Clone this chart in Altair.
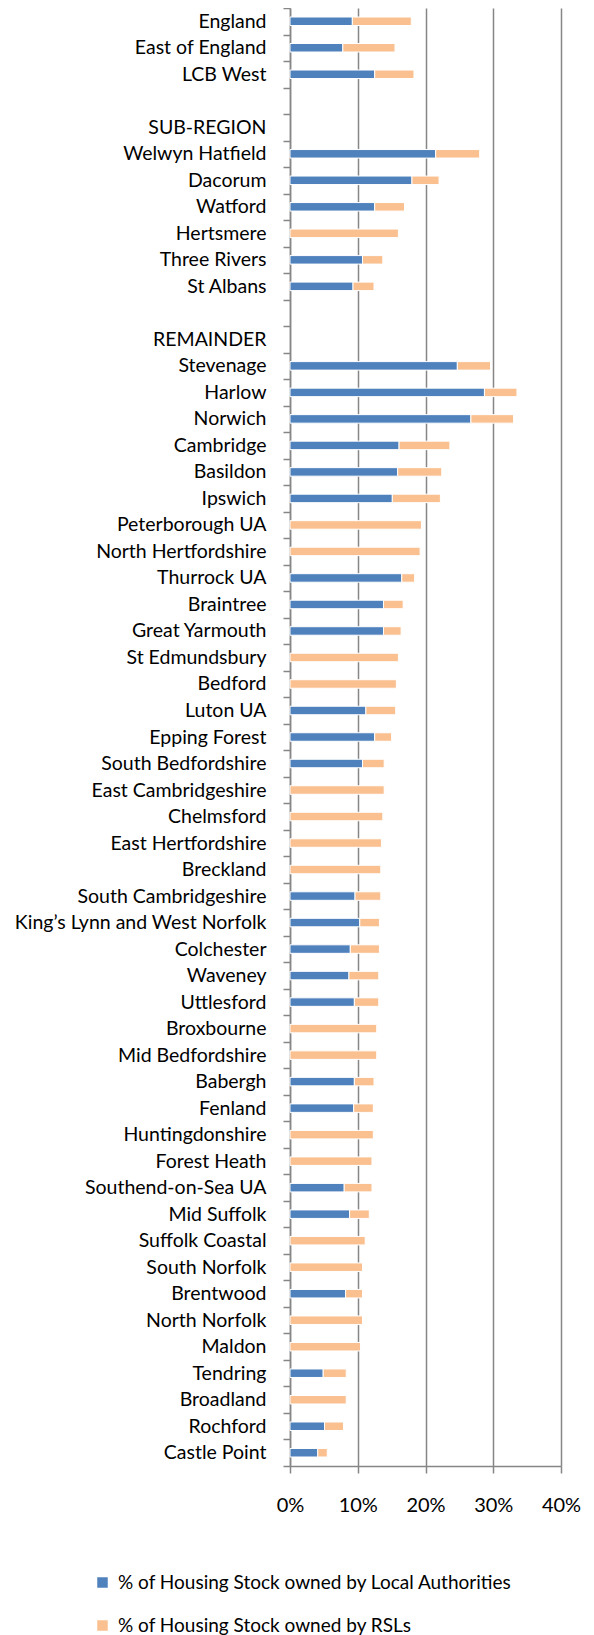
import altair as alt
import pandas as pd

categories = [
    "England", "East of England", "LCB West", " ", "SUB-REGION",
    "Welwyn Hatfield", "Dacorum", "Watford", "Hertsmere", "Three Rivers", "St Albans",
    "  ", "REMAINDER",
    "Stevenage", "Harlow", "Norwich", "Cambridge", "Basildon", "Ipswich",
    "Peterborough UA", "North Hertfordshire", "Thurrock UA", "Braintree", "Great Yarmouth",
    "St Edmundsbury", "Bedford", "Luton UA", "Epping Forest", "South Bedfordshire",
    "East Cambridgeshire", "Chelmsford", "East Hertfordshire", "Breckland",
    "South Cambridgeshire", "King\u2019s Lynn and West Norfolk", "Colchester",
    "Waveney", "Uttlesford", "Broxbourne", "Mid Bedfordshire", "Babergh", "Fenland",
    "Huntingdonshire", "Forest Heath", "Southend-on-Sea  UA", "Mid Suffolk",
    "Suffolk Coastal", "South Norfolk",
    "Brentwood", "North Norfolk", "Maldon", "Tendring", "Broadland", "Rochford", "Castle Point",
]

# % of housing stock owned by Local Authorities (0 = none)
la_pct = [
    9.2, 7.8, 12.5, 0, 0,
    21.5, 18.0, 12.5, 0, 10.7, 9.3,
    0, 0,
    24.7, 28.7, 26.7, 16.1, 15.9, 15.1,
    0, 0, 16.5, 13.8, 13.8,
    0, 0, 11.2, 12.5, 10.7,
    0, 0, 0, 0,
    9.6, 10.3, 8.9,
    8.7, 9.5, 0, 0, 9.5, 9.4,
    0, 0, 8.0, 8.8,
    0, 0,
    8.2, 0, 0, 4.9, 0, 5.1, 4.1,
]

# % of housing stock owned by RSLs
rsl_pct = [
    8.7, 7.7, 5.8, 0, 0,
    6.5, 4.0, 4.4, 16.0, 3.0, 3.1,
    0, 0,
    4.9, 4.8, 6.3, 7.5, 6.5, 7.1,
    19.4, 19.2, 1.9, 2.9, 2.6,
    16.0, 15.7, 4.4, 2.5, 3.2,
    13.9, 13.7, 13.5, 13.4,
    3.8, 2.9, 4.3,
    4.4, 3.6, 12.8, 12.8, 2.9, 2.9,
    12.3, 12.1, 4.1, 2.9,
    11.1, 10.7,
    2.5, 10.7, 10.4, 3.4, 8.3, 2.8, 1.4,
]

series_names = [
    "% of Housing Stock owned by Local Authorities",
    "% of Housing Stock owned by RSLs",
]
series_colors = ["#4F81BD", "#FAC090"]
x_ticks = [0, 10, 20, 30, 40]

rows = []
for c, a, r in zip(categories, la_pct, rsl_pct):
    if a:
        rows.append({"cat": c, "series": series_names[0], "value": a, "ord": 0})
    if r:
        rows.append({"cat": c, "series": series_names[1], "value": r, "ord": 1})
df = pd.DataFrame(rows)

FONT = "Lato"
GRAY = "#868686"

chart = alt.Chart(df).mark_bar(size=8.5, stroke="white", strokeWidth=1).encode(
    y=alt.Y(
        "cat:N",
        sort=None,
        scale=alt.Scale(domain=categories, paddingInner=0, paddingOuter=0),
        axis=alt.Axis(
            title=None, labelFont=FONT, labelFontSize=19.5, labelColor="black",
            tickSize=7, tickColor=GRAY, tickWidth=1.5, domainColor=GRAY, domainWidth=1.5,
            labelPadding=17, tickBand="extent", grid=False, labelLimit=400,
        ),
    ),
    x=alt.X(
        "value:Q",
        stack="zero",
        scale=alt.Scale(domain=[0, 40], nice=False),
        axis=alt.Axis(
            title=None, values=x_ticks, labelExpr="datum.value + '%'",
            grid=True, gridColor=GRAY, gridWidth=1.5,
            tickSize=7, tickColor=GRAY, tickWidth=1.5, domainColor=GRAY, domainWidth=1.5,
            labelPadding=32, labelBaseline="middle", labelFlush=False,
            labelFont=FONT, labelFontSize=20, labelColor="black",
        ),
    ),
    color=alt.Color(
        "series:N",
        scale=alt.Scale(domain=series_names, range=series_colors),
        legend=alt.Legend(
            title=None, orient="none", legendX=-197, legendY=1565,
            direction="vertical", symbolType="square", symbolSize=110,
            symbolStrokeWidth=0, labelFont=FONT, labelFontSize=19, labelColor="black",
            rowPadding=23, labelOffset=6, labelLimit=600,
        ),
    ),
    order=alt.Order("ord:Q"),
).properties(
    width=271,
    height=1458,
    autosize=alt.AutoSizeParams(type="none"),
    padding={"left": 282, "top": 0, "right": 22, "bottom": 169},
).configure_view(stroke=None)

chart.save("out.html", embed_options={"renderer": "svg", "actions": False})
